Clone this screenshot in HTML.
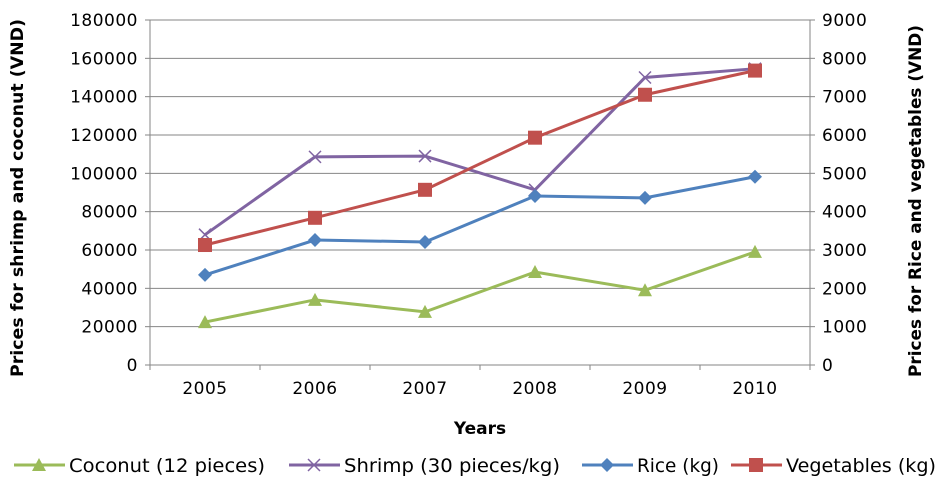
<!DOCTYPE html>
<html><head><meta charset="utf-8"><style>
html,body{margin:0;padding:0;background:#fff;}
svg{display:block;font-family:"DejaVu Sans","Liberation Sans",Arial,sans-serif;}
</style></head><body>
<svg id="chart" width="945" height="487" viewBox="0 0 945 487">
<g id="grid"></g><g id="axes"></g><g id="series"></g><g id="legend"></g>
</svg>
<script>
const years = ["2005","2006","2007","2008","2009","2010"];
const coconut = [22400, 34000, 27700, 48500, 39000, 59000];
const shrimp = [68000, 108600, 109000, 91400, 150000, 154600];
const rice = [2350, 3260, 3210, 4410, 4360, 4910];
const vegetables = [3130, 3840, 4570, 5930, 7050, 7680];
const leftTicks = [0,20000,40000,60000,80000,100000,120000,140000,160000,180000];
const rightTicks = [0,1000,2000,3000,4000,5000,6000,7000,8000,9000];

const NS="http://www.w3.org/2000/svg";
const X0=150,X1=810,Y0=365,Y1=20;
const xs=i=>X0+(i+0.5)*(X1-X0)/years.length;
const yl=v=>Y0-v/180000*(Y0-Y1);
const yr=v=>Y0-v/9000*(Y0-Y1);
function mk(tag,attrs,parent,text){const e=document.createElementNS(NS,tag);for(const k in attrs)e.setAttribute(k,attrs[k]);if(text!==undefined)e.textContent=text;parent.appendChild(e);return e;}
const grid=document.getElementById('grid'),axes=document.getElementById('axes'),ser=document.getElementById('series'),leg=document.getElementById('legend');
leftTicks.forEach((t,i)=>{
 const y=yl(t);
 if(t>0){const g=mk('line',{x1:X0,x2:X1,y1:y,y2:y,stroke:'#868686','stroke-width':1},grid);
 
 }
 const l=mk('text',{x:X0-12,y:y+6,'text-anchor':'end','font-size':17,fill:'#000','letter-spacing':'0.5'},axes,String(t));
 
 
 mk('line',{x1:X0-5,x2:X0,y1:y,y2:y,stroke:'#868686'},axes);
});
rightTicks.forEach(t=>{
 const y=yr(t);
 const l=mk('text',{x:X1+12,y:y+6,'text-anchor':'start','font-size':17,fill:'#000','letter-spacing':'0.5'},axes,String(t));
 
 
 mk('line',{x1:X1,x2:X1+5,y1:y,y2:y,stroke:'#868686'},axes);
});
mk('line',{x1:X0,x2:X0,y1:Y1,y2:Y0,stroke:'#868686'},axes);
mk('line',{x1:X1,x2:X1,y1:Y1,y2:Y0,stroke:'#868686'},axes);
mk('line',{x1:X0,x2:X1,y1:Y0,y2:Y0,stroke:'#868686'},axes);
years.forEach((yv,i)=>{
 const bx=X0+i*(X1-X0)/years.length;
 mk('line',{x1:bx,x2:bx,y1:Y0,y2:Y0+5,stroke:'#868686'},axes);
 const l=mk('text',{x:xs(i),y:Y0+29,'text-anchor':'middle','font-size':17,'letter-spacing':'0.5'},axes,yv);
 
 
});
mk('line',{x1:X1,x2:X1,y1:Y0,y2:Y0+5,stroke:'#868686'},axes);
let t=mk('text',{x:480,y:434,'text-anchor':'middle','font-size':17,'font-weight':'bold'},axes,'Years');

t=mk('text',{x:0,y:0,'text-anchor':'middle','font-size':17,'font-weight':'bold',textLength:358,lengthAdjust:'spacingAndGlyphs',transform:'translate(23,198) rotate(-90)'},axes,'Prices for shrimp and coconut (VND)');

t=mk('text',{x:0,y:0,'text-anchor':'middle','font-size':17,'font-weight':'bold',textLength:352,lengthAdjust:'spacingAndGlyphs',transform:'translate(921,201) rotate(-90)'},axes,'Prices for Rice and  vegetables (VND)');


function marker(type,x,y,color,p){
 if(type==='tri')return mk('polygon',{points:`${x},${y-7} ${x-7},${y+6} ${x+7},${y+6}`,fill:color},p);
 if(type==='x'){const g=mk('g',{stroke:color,'stroke-width':1.5},p);mk('line',{x1:x-6,y1:y-6,x2:x+6,y2:y+6},g);mk('line',{x1:x-6,y1:y+6,x2:x+6,y2:y-6},g);return g;}
 if(type==='dia')return mk('polygon',{points:`${x},${y-7} ${x+7},${y} ${x},${y+7} ${x-7},${y}`,fill:color},p);
 return mk('rect',{x:x-7,y:y-7,width:14,height:14,fill:color},p);
}
const list=[
 {name:'coconut',data:coconut,f:yl,color:'#9bbb59',m:'tri',label:'Coconut (12 pieces)'},
 {name:'shrimp',data:shrimp,f:yl,color:'#8064a2',m:'x',label:'Shrimp (30 pieces/kg)'},
 {name:'rice',data:rice,f:yr,color:'#4f81bd',m:'dia',label:'Rice (kg)'},
 {name:'vegetables',data:vegetables,f:yr,color:'#c0504d',m:'sq',label:'Vegetables (kg)'}
];
list.forEach(s=>{
 const g=mk('g',{},ser);
 
 
 const pl=mk('polyline',{points:s.data.map((v,i)=>xs(i)+','+s.f(v)).join(' '),fill:'none',stroke:s.color,'stroke-width':3},g);
 
 
 s.data.forEach((v,i)=>{const m=marker(s.m,xs(i),s.f(v),s.color,g);
  
  });
});
const lx=[14,289,582,731];
const tlen=[196,216,82,150];
list.forEach((s,i)=>{
 const g=mk('g',{},leg);
 
 
 mk('line',{x1:lx[i],x2:lx[i]+51,y1:465,y2:465,stroke:s.color,'stroke-width':3},g);
 marker(s.m,lx[i]+25,465,s.color,g);
 mk('text',{x:lx[i]+55,y:472,'font-size':19,textLength:tlen[i],lengthAdjust:'spacingAndGlyphs'},g,s.label);
});
</script>
</body></html>
